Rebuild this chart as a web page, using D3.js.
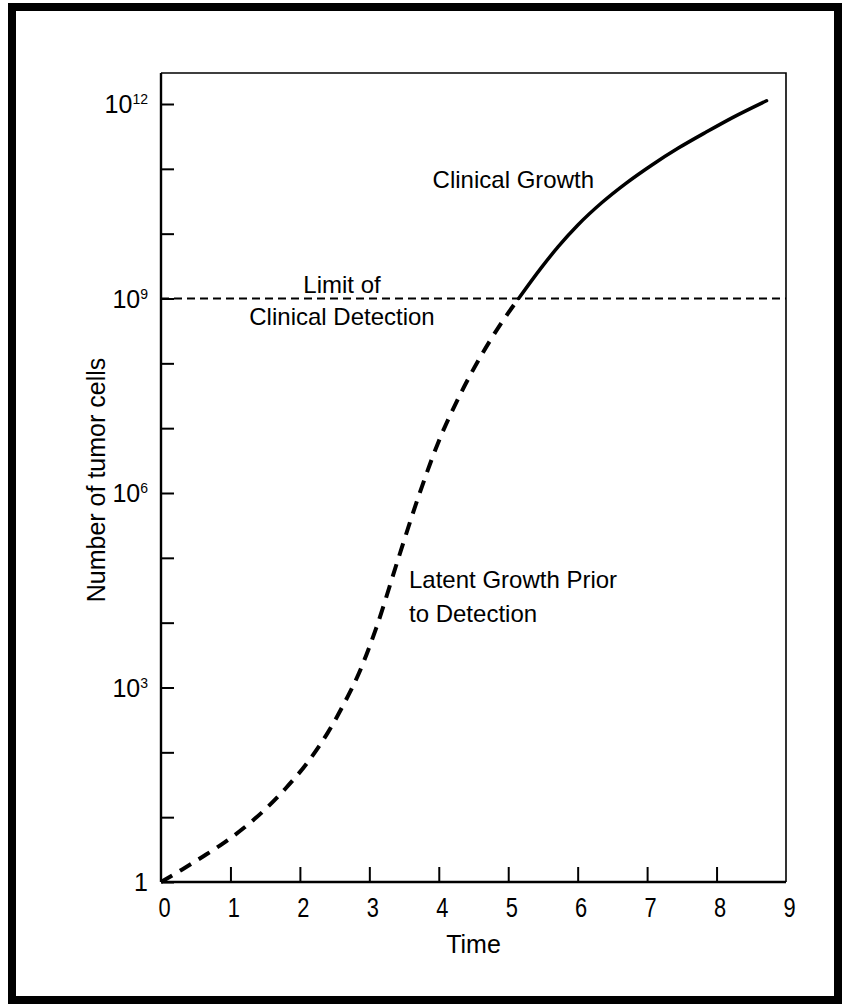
<!DOCTYPE html>
<html>
<head>
<meta charset="utf-8">
<script src="https://cdn.jsdelivr.net/npm/d3@7"></script>
<style>
	html, body { margin: 0; padding: 0; background: #fff; }
	svg { display: block; }
	text { font-family: "Liberation Sans", Arial, Helvetica, sans-serif; fill: #000; }
</style>
</head>
<body>
<div id="chart"></div>
<script>
// time axis and y decades
const xTicks = [0, 1, 2, 3, 4, 5, 6, 7, 8, 9];
const yTickExps = [0, 1, 2, 3, 4, 5, 6, 7, 8, 9, 10, 11, 12];
const yLabelExps = [0, 3, 6, 9, 12];
const detectionExp = 9;

// latent growth (dashed) : time, log10(cells)
const latentTime = [0, 0.3, 0.6, 0.9, 1.2, 1.5, 1.8, 2.1, 2.4, 2.65, 2.85, 3.1, 3.4, 3.7, 4.0, 4.3, 4.6, 4.9, 5.15];
const latentExp = [0, 0.19, 0.39, 0.6, 0.84, 1.12, 1.45, 1.83, 2.3, 2.78, 3.22, 3.92, 4.93, 5.92, 6.8, 7.5, 8.1, 8.62, 9.0];

// clinical growth (solid)
const clinicalTime = [5.15, 5.48, 5.72, 6.0, 6.35, 6.7, 7.07, 7.45, 7.84, 8.23, 8.72];
const clinicalExp = [9.0, 9.48, 9.8, 10.13, 10.48, 10.78, 11.06, 11.32, 11.56, 11.79, 12.05];

const W = 842, H = 1004;
const plot = { left: 161, right: 786, top: 73, bottom: 882 };

const svg = d3.select("#chart").append("svg")
	.attr("width", W)
	.attr("height", H);

// outer frame
svg.append("rect")
	.attr("x", 12).attr("y", 7)
	.attr("width", 826).attr("height", 993)
	.attr("fill", "none")
	.attr("stroke", "#000")
	.attr("stroke-width", 8);

const x = d3.scaleLinear().domain([0, 9]).range([plot.left, plot.right]);
const y = d3.scaleLog().domain([1, 1e12]).range([plot.bottom, 104]);

// top and right edges of the box
svg.append("path")
	.attr("d", `M${plot.left},${plot.top}H${plot.right}V${plot.bottom}`)
	.attr("fill", "none")
	.attr("stroke", "#000")
	.attr("stroke-width", 1.6);

// y axis (ticks only, labels drawn separately)
const yAxis = d3.axisLeft(y)
	.tickValues(yTickExps.map(e => Math.pow(10, e)))
	.tickSize(-13)
	.tickFormat("");
const yAxisG = svg.append("g")
	.attr("transform", `translate(${plot.left},0)`)
	.call(yAxis);
yAxisG.select(".domain").remove();
yAxisG.selectAll(".tick line").attr("stroke", "#000").attr("stroke-width", 2);
svg.append("line")
	.attr("x1", plot.left).attr("x2", plot.left)
	.attr("y1", plot.top).attr("y2", plot.bottom)
	.attr("stroke", "#000").attr("stroke-width", 2.4);

// x axis
const xAxis = d3.axisBottom(x)
	.tickValues(xTicks)
	.tickSize(-15);
const xAxisG = svg.append("g")
	.attr("transform", `translate(0,${plot.bottom})`)
	.call(xAxis);
xAxisG.select(".domain").remove();
xAxisG.selectAll(".tick line")
	.attr("stroke", "#000").attr("stroke-width", 2)
	.attr("opacity", d => (d === 0 || d === 9) ? 0 : 1);
// narrow, tall digits like the original
xAxisG.selectAll(".tick text")
	.attr("x", 3 / 0.78)
	.attr("y", 35)
	.attr("dy", 0)
	.attr("transform", "scale(0.78,1)")
	.style("font-size", "28px")
	.attr("fill", "#000");
svg.append("line")
	.attr("x1", plot.left).attr("x2", plot.right)
	.attr("y1", plot.bottom).attr("y2", plot.bottom)
	.attr("stroke", "#000").attr("stroke-width", 2.4);

// y labels with superscripts
const yLabels = svg.append("g")
	.selectAll("text")
	.data(yLabelExps)
	.join("text")
	.attr("x", 148)
	.attr("y", d => y(Math.pow(10, d)) + 9)
	.attr("text-anchor", "end")
	.style("font-size", "25px");
yLabels.each(function(d) {
	const t = d3.select(this);
	if (d === 0) {
		t.text("1");
	} else {
		t.append("tspan").text("10");
		t.append("tspan")
			.attr("dy", -9)
			.style("font-size", "14px")
			.text(d);
	}
});

// detection limit
svg.append("line")
	.attr("x1", plot.left).attr("x2", plot.right)
	.attr("y1", y(Math.pow(10, detectionExp)))
	.attr("y2", y(Math.pow(10, detectionExp)))
	.attr("stroke", "#000")
	.attr("stroke-width", 1.8)
	.attr("stroke-dasharray", "8,5");

const line = d3.line()
	.x(d => x(d[0]))
	.y(d => y(Math.pow(10, d[1])))
	.curve(d3.curveMonotoneX);

const latent = latentTime.map((t, i) => [t, latentExp[i]]);
const clinical = clinicalTime.map((t, i) => [t, clinicalExp[i]]);

svg.append("path")
	.datum(latent)
	.attr("d", line)
	.attr("fill", "none")
	.attr("stroke", "#000")
	.attr("stroke-width", 4)
	.attr("stroke-dasharray", "13,9");

svg.append("path")
	.datum(clinical)
	.attr("d", line)
	.attr("fill", "none")
	.attr("stroke", "#000")
	.attr("stroke-width", 3.5)
	.attr("stroke-linecap", "round");

// annotations
const note = (txt, px, py, anchor) => svg.append("text")
	.attr("x", px).attr("y", py)
	.attr("text-anchor", anchor)
	.style("font-size", "24px")
	.text(txt);

note("Clinical Growth", 594, 188, "end");
note("Limit of", 342, 293, "middle");
note("Clinical Detection", 342, 325, "middle");
note("Latent Growth Prior", 409, 588, "start");
note("to Detection", 409, 622, "start");

// axis titles
svg.append("text")
	.attr("x", (plot.left + plot.right) / 2)
	.attr("y", 953)
	.attr("text-anchor", "middle")
	.style("font-size", "25px")
	.text("Time");

svg.append("text")
	.attr("transform", "translate(105,480) rotate(-90)")
	.attr("text-anchor", "middle")
	.style("font-size", "25px")
	.text("Number of tumor cells");
</script>
</body>
</html>
